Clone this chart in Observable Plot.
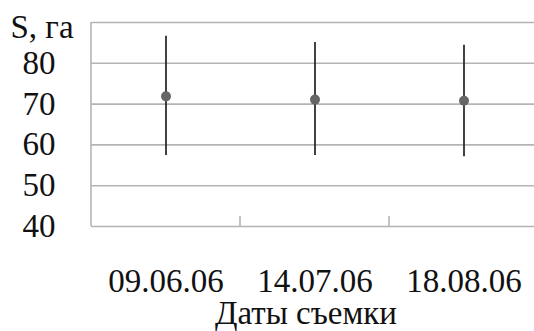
<!DOCTYPE html>
<html>
<head>
<meta charset="utf-8">
<script src="https://cdn.jsdelivr.net/npm/d3@7"></script>
<script src="https://cdn.jsdelivr.net/npm/@observablehq/plot@0.6"></script>
<style>
  html, body { margin: 0; padding: 0; background: #fff; }
  #chart svg { display: block; }
  #chart svg, #chart svg text { font-family: "Liberation Serif", "Times New Roman", serif !important; }
</style>
</head>
<body>
<div id="chart"></div>
<script>
// Data
const dates = ["09.06.06", "14.07.06", "18.08.06"];
const means = [71.9, 71.1, 70.8];
const lows  = [57.4, 57.4, 57.1];
const highs = [86.6, 85.1, 84.4];
const yTicks = [40, 50, 60, 70, 80];
const gridValues = [40, 50, 60, 70, 80, 90];
const yLabel = "S, га";
const xLabel = "Даты съемки";

const rows = dates.map((d, i) => ({date: d, mean: means[i], low: lows[i], high: highs[i]}));

const W = 534, H = 331;
const mL = 91, mT = 22, mB = 105;
const fs = 33;
const font = "'Liberation Serif', 'Times New Roman', serif";
const gridColor = "#b4b4b4";

// axis line + category boundary ticks drawn through Plot's scales
function frameMarks(index, scales, values, dimensions) {
  const x = scales.x, y = scales.y;
  const bw = typeof x.bandwidth === "function" ? x.bandwidth() : 0;
  const g = d3.create("svg:g").attr("stroke", gridColor).attr("stroke-width", 1.6).attr("fill", "none");
  const left = x(dates[0]);
  g.append("line").attr("x1", left).attr("x2", left).attr("y1", y(40)).attr("y2", y(90));
  for (let i = 0; i < dates.length - 1; i++) {
    const bx = x(dates[i]) + bw;
    g.append("line").attr("x1", bx).attr("x2", bx).attr("y1", y(40)).attr("y2", y(40) - 10);
  }
  return g.node();
}

const chart = Plot.plot({
  width: W,
  height: H,
  marginLeft: mL,
  marginRight: 0,
  marginTop: mT,
  marginBottom: mB,
  style: {fontFamily: font, fontSize: fs + "px", color: "#111", background: "#fff"},
  x: {type: "band", domain: dates, range: [mL, 538], padding: 0},
  y: {domain: [40, 90]},
  marks: [
    Plot.ruleY(gridValues, {stroke: gridColor, strokeWidth: 1.6}),
    frameMarks,
    Plot.axisY({ticks: yTicks, tickSize: 0, tickPadding: 36, label: null, fontSize: fs, fill: "#111"}),
    Plot.axisX({tickSize: 0, tickPadding: 42, label: null, fontSize: fs, fill: "#111"}),
    Plot.ruleX(rows, {x: "date", y1: "low", y2: "high", stroke: "#222", strokeWidth: 1.7}),
    Plot.dot(rows, {x: "date", y: "mean", r: 5, fill: "#666", stroke: "none"}),
    Plot.text([yLabel], {frameAnchor: "top-left", lineAnchor: "middle", textAnchor: "start", dx: -81, dy: 5, fontSize: fs, fill: "#111"}),
    Plot.text([xLabel], {frameAnchor: "bottom", lineAnchor: "middle", dx: -7, dy: 87, fontSize: fs, fill: "#111"})
  ]
});

document.getElementById("chart").append(chart);
</script>
</body>
</html>
